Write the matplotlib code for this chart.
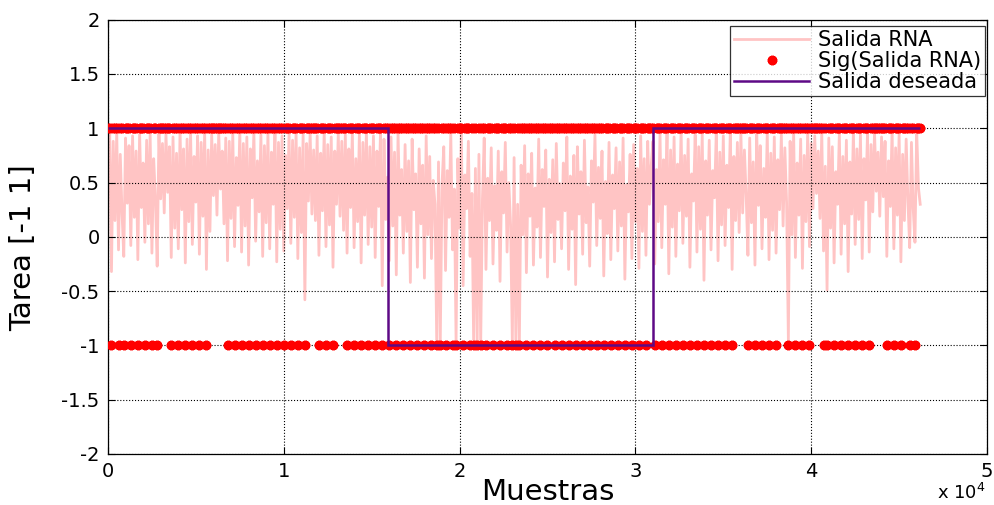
import numpy as np
import matplotlib
matplotlib.use("Agg")
import matplotlib.pyplot as plt

plt.rcParams["font.family"] = ["DejaVu Sans"]
plt.rcParams["mathtext.fontset"] = "dejavusans"

# ---- data -----------------------------------------------------------------
paso_muestras = 100  # spacing of the stored network-output samples

# network output, first block (samples 0 .. 15800)
salida_rna_a = [
    0.42, 0.95, -0.32, 0.88, 0.15, 0.97, -0.12, 0.76, 0.22, -0.18,
    0.91, 0.31, 0.84, -0.08, 0.93, 0.18, 0.79, -0.21, 0.96, 0.27,
    0.68, -0.05, 0.89, 0.12, 0.94, -0.15, 0.72, 0.35, -0.27, 0.97,
    0.35, 0.86, 0.22, 0.95, 0.41, 0.83, -0.19, 0.92, 0.08, 0.77,
    -0.11, 0.98, 0.25, 0.81, -0.24, 0.90, 0.14, 0.96, -0.07, 0.74,
    0.32, 0.93, -0.16, 0.87, 0.19, 0.97, -0.30, 0.80, 0.05, 0.94,
    0.38, 0.85, 0.20, 0.96, 0.44, 0.79, 0.12, 0.91, -0.22, 0.88,
    0.17, 0.95, -0.09, 0.73, 0.29, 0.98, -0.14, 0.86, 0.10, 0.92,
    -0.26, 0.81, 0.36, 0.97, -0.04, 0.70, 0.23, 0.94, -0.18, 0.84,
    0.13, 0.96, -0.11, 0.78, 0.30, 0.99, -0.23, 0.87, 0.07, 0.93,
    -0.13, 0.75, 0.26, 0.95, -0.06, 0.89, 0.18, 0.97, -0.20, 0.82,
    0.04, 0.94, -0.58, 0.86, 0.33, 0.96, 0.21, 0.80, 0.15, 0.93,
    -0.17, 0.77, 0.24, 0.98, -0.09, 0.85, 0.11, 0.92, -0.28, 0.79,
    0.30, 0.96, 0.19, 0.88, 0.06, 0.94, -0.15, 0.81, 0.27, 0.97,
    -0.10, 0.72, 0.14, 0.95, -0.24, 0.87, 0.20, 0.98, -0.07, 0.83,
    0.09, 0.93, -0.19, 0.79, 0.28, 0.96, -0.45, 0.90, 0.16,
]

# network output, second block (samples 15900 .. 30900)
salida_rna_b = [
    0.55, -0.22, 0.92, 0.10, 0.78, -0.35, 0.96, 0.20, 0.62, -0.15,
    0.85, 0.05, 0.70, -0.42, 0.90, 0.25, 0.58, -0.28, 0.81, 0.12,
    0.66, -0.38, 0.93, 0.02, 0.74, -0.20, 0.52, 0.30, -0.97, 0.69,
    -0.99, 0.48, 0.83, -0.31, 0.61, 0.18, 0.95, -0.12, 0.44, -0.96,
    0.72, 0.08, 0.97, -0.45, 0.57, 0.26, 0.88, -0.18, 0.40, -0.98,
    0.63, -0.95, 0.76, -0.99, 0.35, 0.91, -0.30, 0.54, 0.15, 0.82,
    -0.25, 0.47, 0.06, 0.79, -0.41, 0.60, 0.22, 0.87, -0.14, 0.50,
    0.11, -0.97, 0.73, -0.99, 0.30, -0.98, 0.66, 0.02, 0.84, -0.33,
    0.58, 0.19, 0.77, -0.26, 0.45, 0.09, 0.90, -0.19, 0.62, 0.28,
    0.80, -0.37, 0.53, 0.04, 0.71, -0.23, 0.86, 0.16, 0.49, -0.11,
    0.68, 0.24, 0.92, -0.30, 0.56, 0.07, 0.75, -0.44, 0.83, 0.21,
    0.60, -0.16, 0.89, 0.13, 0.46, -0.27, 0.70, 0.32, 0.94, -0.08,
    0.64, 0.17, 0.79, -0.36, 0.51, 0.03, 0.87, -0.21, 0.57, 0.26,
    0.82, -0.13, 0.69, 0.10, 0.91, -0.39, 0.48, 0.23, 0.76, -0.20,
    0.85, 0.14, 0.63, -0.29, 0.93, 0.05, 0.72, -0.17, 0.88, 0.30,
    0.66,
]

# network output, third block (samples 31000 .. 46200)
salida_rna_c = [
    0.88, -0.25, 0.62, 0.14, 0.95, -0.10, 0.71, 0.30, 0.97, -0.34,
    0.80, 0.09, 0.92, -0.18, 0.67, 0.24, 0.98, -0.06, 0.75, 0.19,
    0.90, -0.28, 0.58, 0.33, 0.94, -0.14, 0.83, 0.07, 0.96, -0.40,
    0.70, 0.20, 0.89, -0.12, 0.61, 0.36, 0.97, -0.22, 0.78, 0.11,
    0.93, -0.08, 0.66, 0.27, 0.99, -0.30, 0.74, 0.15, 0.87, 0.04,
    0.95, 0.22, 0.80, 0.38, -0.17, 0.91, 0.13, 0.69, -0.26, 0.96,
    0.29, 0.84, -0.11, 0.63, 0.18, 0.97, -0.21, 0.77, 0.06, 0.92,
    -0.15, 0.71, 0.25, 0.94, 0.10, 0.82, 0.31, -0.95, 0.88, 0.02,
    0.96, -0.19, 0.68, 0.20, 0.90, -0.29, 0.75, 0.14, 0.98, -0.09,
    0.86, 0.26, 0.93, 0.40, 0.79, 0.17, 0.97, -0.13, 0.65, -0.49,
    0.91, 0.08, 0.83, -0.24, 0.60, 0.30, 0.96, -0.16, 0.74, 0.12,
    0.89, -0.32, 0.69, 0.21, 0.98, -0.07, 0.81, 0.16, 0.94, -0.20,
    0.72, 0.34, 0.95, -0.14, 0.85, 0.23, 0.97, 0.42, 0.78, 0.19,
    0.92, 0.37, 0.88, -0.18, 0.70, 0.28, 0.99, -0.11, 0.82, 0.20,
    0.95, -0.23, 0.76, 0.15, 0.90, 0.33, -0.10, 0.87, 0.26, -0.05,
    0.97, 0.45, 0.30,
]

# desired task: level per interval, interval edges in samples
tarea_bordes = [0, 15900, 31000, 46200]
tarea_niveles = [1, -1, 1]

xtick_vals = [0, 10000, 20000, 30000, 40000, 50000]
xtick_labels = ["0", "1", "2", "3", "4", "5"]
ytick_vals = [-2, -1.5, -1, -0.5, 0, 0.5, 1, 1.5, 2]
ytick_labels = ["-2", "-1.5", "-1", "-0.5", "0", "0.5", "1", "1.5", "2"]

# ---- figure ---------------------------------------------------------------
salida_rna = np.array(salida_rna_a + salida_rna_b + salida_rna_c)
muestras = np.arange(len(salida_rna)) * paso_muestras
signo = np.sign(salida_rna)

fig = plt.figure(figsize=(9.95, 5.05), dpi=100)
ax = fig.add_axes([0.1085, 0.101, 0.8835, 0.860])

ax.plot(muestras, salida_rna, color="#FFC4C4", lw=2.0, label="Salida RNA", zorder=2)
ax.plot(muestras, signo, ls="none", marker=(8, 2, 0), ms=6.8, mew=2.2,
        color="#FF0000", label="Sig(Salida RNA)", zorder=3)
ax.stairs(tarea_niveles, tarea_bordes, baseline=None, color="#5E0A86", lw=1.8,
          label="Salida deseada", zorder=4)

ax.set_xlim(0, 50000)
ax.set_ylim(-2, 2)
ax.set_xticks(xtick_vals)
ax.set_xticklabels(xtick_labels)
ax.set_yticks(ytick_vals)
ax.set_yticklabels(ytick_labels)

ax.grid(True, color="black", ls=":", lw=0.8)
ax.set_axisbelow(False)
ax.tick_params(direction="in", length=5, width=0.8, top=True, right=True,
               labelsize=14, pad=6, colors="black")
for s in ax.spines.values():
    s.set_linewidth(0.9)
    s.set_color("black")

ax.set_xlabel("Muestras", fontsize=21, va="baseline")
ax.xaxis.set_label_coords(0.5, -0.106)
ax.set_ylabel("Tarea [-1 1]", fontsize=21, rotation=90, rotation_mode="default",
              ha="center", va="center")
ax.yaxis.set_label_coords(-0.097, 0.475)

ax.text(0.998, -0.104, r"x 10$^{4}$", transform=ax.transAxes, ha="right",
        va="baseline", fontsize=13)

leg = ax.legend(loc="upper right", bbox_to_anchor=(0.9977, 0.986),
                borderaxespad=0, fontsize=15, numpoints=1, handlelength=3.6,
                labelspacing=0.05, borderpad=0.2, handletextpad=0.4,
                frameon=True, fancybox=False, edgecolor="black")
leg.get_frame().set_linewidth(0.9)

fig.savefig("out.png", dpi=100)
